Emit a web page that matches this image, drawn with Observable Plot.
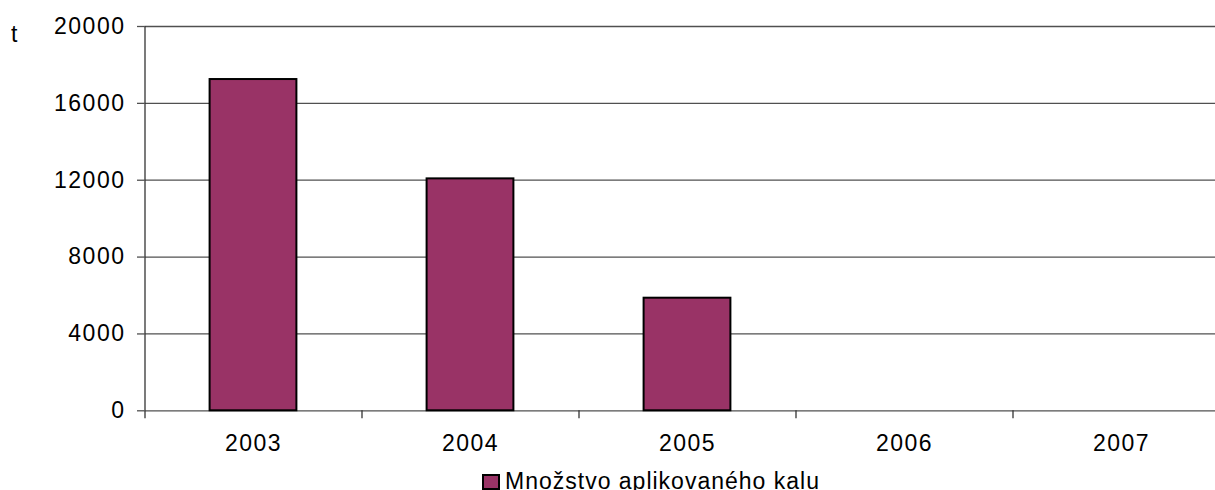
<!DOCTYPE html>
<html>
<head>
<meta charset="utf-8">
<script src="https://cdn.jsdelivr.net/npm/d3@7"></script>
<script src="https://cdn.jsdelivr.net/npm/@observablehq/plot@0.6"></script>
<style>
  html, body { margin: 0; padding: 0; background: #fff; overflow: hidden; }
  body { width: 1215px; height: 490px; position: relative; font-family: "Liberation Sans", Arial, sans-serif; }
  #chart svg { display: block; overflow: visible; }
  #chart svg text { letter-spacing: 1.5px; }
  #legend { position: absolute; left: 482px; top: 468px; display: flex; align-items: center; font-size: 23px; letter-spacing: 1px; color: #000; white-space: nowrap; }
  #legend .sw { width: 14px; height: 12px; background: #993366; border: 2px solid #000; margin-right: 5px; }
</style>
</head>
<body>
<div id="chart"></div>
<div id="legend"><span class="sw"></span><span>Množstvo aplikovaného kalu</span></div>
<script>
const years = [2003, 2004, 2005, 2006, 2007];
const values = [17240, 12070, 5860, 0, 0];
const yTicks = [0, 4000, 8000, 12000, 16000, 20000];
const seriesName = "Množstvo aplikovaného kalu";
const yUnit = "t";

const data = years.map((y, i) => ({year: y, value: values[i]}));
const boundaries = [years[0] - 0.5, ...years.map(y => y + 0.5)];

const chart = Plot.plot({
  width: 1215,
  height: 470,
  marginTop: 26,
  marginBottom: 59.7,
  marginLeft: 144.5,
  marginRight: 0,
  style: {fontFamily: "'Liberation Sans', Arial, sans-serif", fontSize: "23px", color: "#000", background: "#fff"},
  x: {domain: [boundaries[0], boundaries[boundaries.length - 1]], range: [144.5, 1229.5], axis: null},
  y: {domain: [0, 20000], axis: null},
  marks: [
    Plot.gridY(yTicks, {stroke: "#505050", strokeOpacity: 1, strokeWidth: 1.3}),
    Plot.ruleX([boundaries[0]], {y1: 0, y2: 20000, stroke: "#333", strokeWidth: 1.3}),
    Plot.axisY(yTicks, {label: null, tickSize: 7.5, tickPadding: 12, stroke: "#505050", strokeWidth: 1.3, fontSize: 23, tickFormat: d => String(d), textAnchor: "end"}),
    Plot.axisX(boundaries, {label: null, tickSize: 8, tickFormat: () => "", stroke: "#333", strokeWidth: 1.3}),
    Plot.axisX(years, {label: null, tickSize: 0, tickPadding: 24, fontSize: 23, tickFormat: d => String(d)}),
    Plot.rectY(data.filter(d => d.value > 0), {x1: d => d.year - 0.2, x2: d => d.year + 0.2, y1: 0, y2: "value", fill: "#993366", stroke: "#000", strokeWidth: 2}),
    Plot.text([yUnit], {frameAnchor: "top-left", dx: -134, dy: -1, fontSize: 23, textAnchor: "start"})
  ]
});
document.getElementById("chart").appendChild(chart);
</script>
</body>
</html>
